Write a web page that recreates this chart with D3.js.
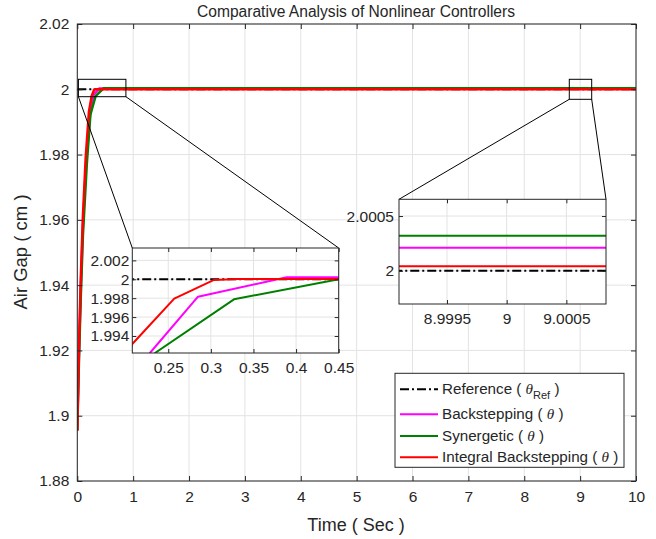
<!DOCTYPE html>
<html><head><meta charset="utf-8">
<script src="https://cdn.jsdelivr.net/npm/d3@7"></script>
<style>
body{margin:0;background:#fff}
svg{display:block}
text{font-family:"Liberation Sans",Arial,Helvetica,sans-serif;fill:#262626}
</style>
</head><body>
<svg id="c" width="656" height="539"></svg>
<script>
// ---------- data ----------
const refT = [0, 10];
const refY = [2, 2];
const backT = [0, 0.01, 0.03, 0.06, 0.1, 0.16, 0.2285, 0.2849, 0.389, 10];
const backY = [1.8955, 1.904, 1.919, 1.938, 1.958, 1.978, 1.9922, 1.99816, 2.00021, 2.00021];
const synT = [0, 0.01, 0.03, 0.06, 0.1, 0.17, 0.2344, 0.3271, 0.45, 0.47, 10];
const synY = [1.8955, 1.903, 1.917, 1.935, 1.955, 1.977, 1.9922, 1.99788, 2.0000, 2.00032, 2.00032];
const ibT = [0, 0.01, 0.03, 0.06, 0.1, 0.15, 0.2078, 0.257, 0.3037, 0.332, 10];
const ibY = [1.8955, 1.905, 1.921, 1.941, 1.961, 1.979, 1.99315, 1.99795, 1.99993, 2.00004, 2.00004];

const seriesNames = ["Reference", "Backstepping", "Synergetic", "Integral Backstepping"];
const seriesColors = ["#000000", "#ff00ff", "#008000", "#ff0000"];

const mainXTicks = [0,1,2,3,4,5,6,7,8,9,10];
const mainYTicks = [1.88,1.9,1.92,1.94,1.96,1.98,2,2.02];
const mainYLabels = ["1.88","1.9","1.92","1.94","1.96","1.98","2","2.02"];

const in1XTicks = [0.25,0.3,0.35,0.4,0.45];
const in1XLabels = ["0.25","0.3","0.35","0.4","0.45"];
const in1YTicks = [1.994,1.996,1.998,2,2.002];
const in1YLabels = ["1.994","1.996","1.998","2","2.002"];
const in1XDomain = [0.2078, 0.45];
const in1YDomain = [1.9922, 2.00331];

const in2XTicks = [8.9995, 9, 9.0005];
const in2XLabels = ["8.9995","9","9.0005"];
const in2YTicks = [2, 2.0005];
const in2YLabels = ["2","2.0005"];
const in2XDomain = [8.999098, 9.000832];
const in2YDomain = [1.999696, 2.000653];

const zoomBox1 = {x:[0.02, 0.87], y:[1.99773, 2.00306]};
const zoomBox2 = {x:[8.806, 9.207], y:[1.99693, 2.00306]};

// ---------- drawing ----------
const svg = d3.select("#c");
const series = [
  {t:refT, v:refY, c:seriesColors[0], dash:"9,3,2,3"},
  {t:backT, v:backY, c:seriesColors[1]},
  {t:synT, v:synY, c:seriesColors[2]},
  {t:ibT, v:ibY, c:seriesColors[3]}
];

let clipId = 0;
function panel(g, x, y, o) {
  const [x0,x1] = x.range(), [y0,y1] = y.range(); // y0 bottom, y1 top
  const w = x1-x0, h = y0-y1;
  g.append("rect").attr("x",x0).attr("y",y1).attr("width",w).attr("height",h).attr("fill","#fff");
  // grid
  g.append("g").selectAll("line").data(o.xt).join("line")
    .attr("x1",d=>x(d)).attr("x2",d=>x(d)).attr("y1",y1).attr("y2",y0)
    .attr("stroke","#e3e3e3").attr("stroke-width",1);
  g.append("g").selectAll("line").data(o.yt).join("line")
    .attr("y1",d=>y(d)).attr("y2",d=>y(d)).attr("x1",x0).attr("x2",x1)
    .attr("stroke","#e3e3e3").attr("stroke-width",1);
  // lines
  const id = "clip"+(clipId++);
  g.append("clipPath").attr("id",id).append("rect").attr("x",x0).attr("y",y1).attr("width",w).attr("height",h);
  const lg = g.append("g").attr("clip-path",`url(#${id})`);
  const line = d3.line().x(d=>x(d[0])).y(d=>y(d[1]));
  series.forEach(s=>{
    lg.append("path").attr("d", line(s.t.map((t,i)=>[t,s.v[i]])))
      .attr("fill","none").attr("stroke",s.c).attr("stroke-width", s.dash ? 2 : o.lw)
      .attr("stroke-dasharray", s.dash||null).attr("stroke-linejoin","round");
  });
  // axes with inward ticks (all 4 sides)
  const tl = o.tickLen;
  g.append("g").attr("transform",`translate(0,${y0})`)
    .call(d3.axisBottom(x).tickValues(o.xt).tickSizeInner(-tl).tickSizeOuter(0).tickPadding(o.xPad).tickFormat((d,i)=>o.xl[i]));
  g.append("g").attr("transform",`translate(0,${y1})`)
    .call(d3.axisTop(x).tickValues(o.xt).tickSizeInner(-tl).tickSizeOuter(0).tickFormat(""));
  g.append("g").attr("transform",`translate(${x0},0)`)
    .call(d3.axisLeft(y).tickValues(o.yt).tickSizeInner(-tl).tickSizeOuter(0).tickPadding(o.yPad).tickFormat((d,i)=>o.yl[i]));
  g.append("g").attr("transform",`translate(${x1},0)`)
    .call(d3.axisRight(y).tickValues(o.yt).tickSizeInner(-tl).tickSizeOuter(0).tickFormat(""));
  g.selectAll(".domain").remove();
  g.selectAll(".tick line").attr("stroke","#262626");
  g.selectAll(".tick text").attr("font-size",o.fs).attr("fill","#262626").style("font-family","'Liberation Sans',Arial,sans-serif");
  g.append("rect").attr("x",x0).attr("y",y1).attr("width",w).attr("height",h)
    .attr("fill","none").attr("stroke","#262626").attr("stroke-width",1);
}

// main
const mx = d3.scaleLinear([0,10],[77.3,636]);
const my = d3.scaleLinear([1.88,2.02],[481,24]);
const gMain = svg.append("g");
panel(gMain, mx, my, {xt:mainXTicks, xl:mainXTicks.map(String), yt:mainYTicks, yl:mainYLabels, tickLen:5, xPad:10, yPad:8, fs:15.5, lw:2.5});

// zoom boxes and connectors
const annot = svg.append("g").attr("stroke","#000").attr("stroke-width",1).attr("fill","none");
function zbox(b){
  annot.append("rect").attr("x",mx(b.x[0])).attr("y",my(b.y[1]))
    .attr("width",mx(b.x[1])-mx(b.x[0])).attr("height",my(b.y[0])-my(b.y[1]));
}
zbox(zoomBox1); zbox(zoomBox2);

const ix1 = d3.scaleLinear(in1XDomain,[132.3,338.7]);
const iy1 = d3.scaleLinear(in1YDomain,[353,248]);
const ix2 = d3.scaleLinear(in2XDomain,[399,606]);
const iy2 = d3.scaleLinear(in2YDomain,[304,199.3]);

function conn(xa,ya,xb,yb){annot.append("line").attr("x1",xa).attr("y1",ya).attr("x2",xb).attr("y2",yb);}
conn(mx(zoomBox1.x[0]), my(zoomBox1.y[0]), ix1.range()[0], iy1.range()[1]);
conn(mx(zoomBox1.x[1]), my(zoomBox1.y[0]), ix1.range()[1], iy1.range()[1]);
conn(mx(zoomBox2.x[0]), my(zoomBox2.y[0]), ix2.range()[0], iy2.range()[1]);
conn(mx(zoomBox2.x[1]), my(zoomBox2.y[0]), ix2.range()[1], iy2.range()[1]);

// insets
panel(svg.append("g"), ix1, iy1, {xt:in1XTicks, xl:in1XLabels, yt:in1YTicks, yl:in1YLabels, tickLen:4, xPad:9, yPad:3, fs:15.5, lw:2});
panel(svg.append("g"), ix2, iy2, {xt:in2XTicks, xl:in2XLabels, yt:in2YTicks, yl:in2YLabels, tickLen:4, xPad:9, yPad:5, fs:15.5, lw:2});

// title & labels
svg.append("text").attr("x",356).attr("y",17).attr("text-anchor","middle").attr("font-size",15.6)
  .text("Comparative Analysis of Nonlinear Controllers");
svg.append("text").attr("x",356).attr("y",531).attr("text-anchor","middle").attr("font-size",18)
  .text("Time ( Sec )");
svg.append("text").attr("transform","translate(27,252) rotate(-90)").attr("text-anchor","middle").attr("font-size",18.5)
  .text("Air Gap ( cm )");

// legend
const lgG = svg.append("g");
lgG.append("rect").attr("x",395).attr("y",373.3).attr("width",229).attr("height",94)
  .attr("fill","#fff").attr("stroke","#262626").attr("stroke-width",1);
const rowsY = [389.3, 414.3, 436, 457.3];
seriesNames.forEach((n,i)=>{
  const s = series[i];
  lgG.append("line").attr("x1",400).attr("x2",438).attr("y1",rowsY[i]).attr("y2",rowsY[i])
    .attr("stroke",s.c).attr("stroke-width",2).attr("stroke-dasharray", s.dash? "9,3,2,3" : null);
  const t = lgG.append("text").attr("x",442).attr("y",rowsY[i]+5).attr("font-size",15.2);
  t.append("tspan").text(n+" ( ");
  t.append("tspan").attr("font-style","italic").style("font-family","'Liberation Serif',serif").text("θ");
  if(i===0){
    t.append("tspan").attr("font-size",11).attr("dy",5).text("Ref");
    t.append("tspan").attr("dy",-5).text(" )");
  } else {
    t.append("tspan").text(" )");
  }
});
</script>
</body></html>
